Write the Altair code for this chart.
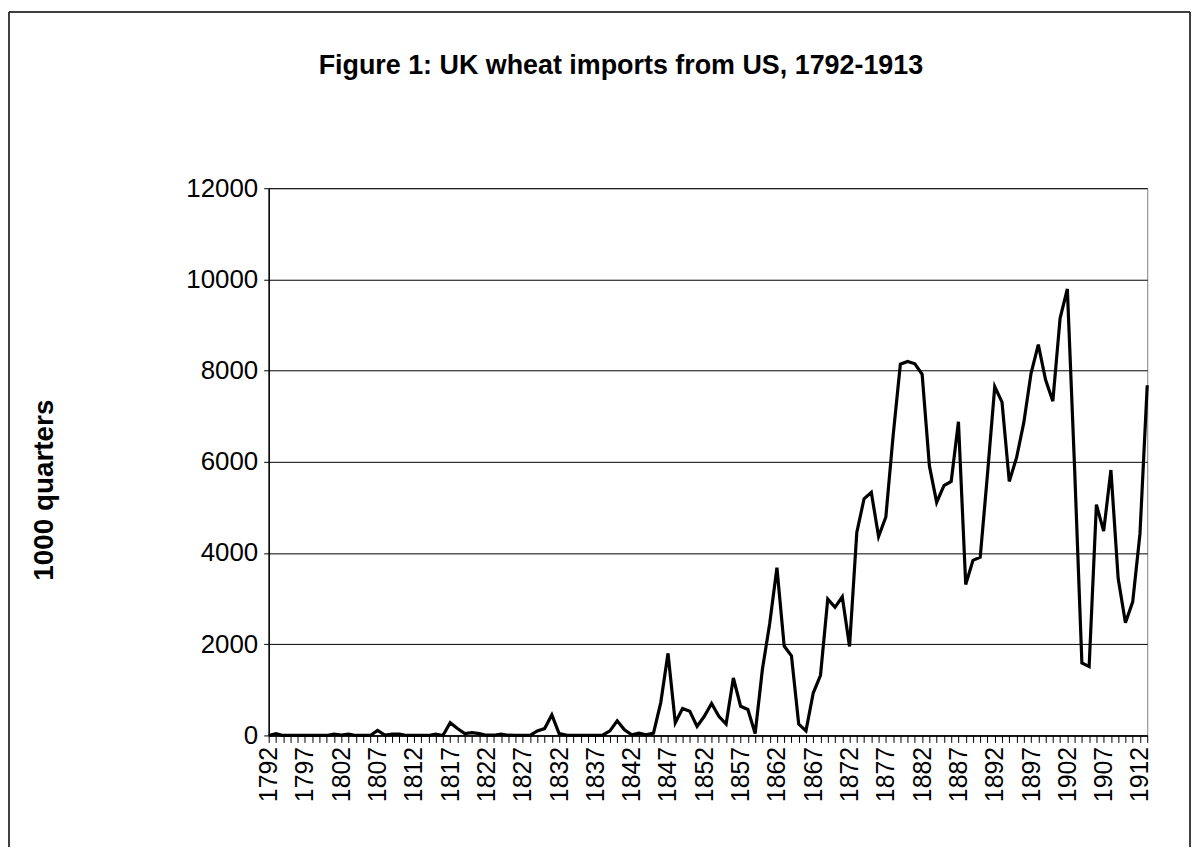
import altair as alt
import pandas as pd

# Years (categories) and UK wheat imports from the US, 1000 quarters
years = list(range(1792, 1914))
imports = [
    0, 40, 0, 0, 0, 0, 0, 0, 0, 30,          # 1792-1801
    10, 30, 0, 0, 0, 110, 10, 30, 30, 0,     # 1802-1811
    0, 0, 0, 30, 0, 280, 150, 40, 60, 40,    # 1812-1821
    5, 5, 30, 5, 0, 0, 0, 100, 150, 450,     # 1822-1831
    40, 10, 0, 0, 0, 0, 5, 100, 320, 125,    # 1832-1841
    15, 50, 15, 50, 720, 1800, 280, 590, 530, 200,   # 1842-1851
    420, 700, 420, 250, 1260, 640, 570, 40, 1450, 2450,  # 1852-1861
    3680, 1960, 1745, 250, 100, 930, 1320, 2990, 2810, 3040,  # 1862-1871
    1950, 4450, 5190, 5330, 4360, 4790, 6570, 8140, 8200, 8150,  # 1872-1881
    7920, 5910, 5110, 5480, 5570, 6880, 3310, 3840, 3910, 5730,  # 1882-1891
    7650, 7310, 5570, 6090, 6860, 7940, 8570, 7800, 7330, 9150,  # 1892-1901
    9790, 5850, 1590, 1510, 5060, 4480, 5820, 3440, 2470, 2930,  # 1902-1911
    4420, 7680,                                                   # 1912-1913
]
assert len(years) == len(imports)

y_ticks = [0, 2000, 4000, 6000, 8000, 10000, 12000]
title_text = "Figure 1: UK wheat imports from US, 1792-1913"
y_title = "1000 quarters"

df = pd.DataFrame({"year": years, "imports": imports})

FONT = "Liberation Sans"

line = alt.Chart(df).mark_line(color="black", strokeWidth=3.2).encode(
    x=alt.X(
        "year:Q",
        scale=alt.Scale(domain=[years[0], years[-1]], nice=False, zero=False),
        axis=alt.Axis(
            values=years,
            labelExpr="(datum.value - 1792) % 5 == 0 ? toString(datum.value) : ''",
            labelAngle=270,
            labelOverlap=False,
            labelFlush=False,
            labelFont=FONT,
            labelFontSize=25,
            labelColor="black",
            labelPadding=4,
            tickSize=7,
            tickColor="black",
            domainColor="black",
            domainWidth=1.5,
            grid=False,
            title=None,
        ),
    ),
    y=alt.Y(
        "imports:Q",
        scale=alt.Scale(domain=[0, 12000], nice=False),
        axis=alt.Axis(
            values=y_ticks,
            format="d",
            labelFont=FONT,
            labelFontSize=26,
            labelColor="black",
            labelPadding=6,
            tickSize=5,
            tickColor="black",
            domainColor="black",
            domainWidth=1.5,
            grid=True,
            gridColor="black",
            gridWidth=1,
            title=y_title,
            titleFont=FONT,
            titleFontSize=28,
            titleFontWeight="bold",
            titleColor="black",
            titleAngle=270,
            titleAlign="center",
            titleBaseline="middle",
            titleX=-225,
            titleY=303,
        ),
    ),
)

# chart title as a text layer (kept out of the bounds computation)
title_df = pd.DataFrame({"t": [title_text]})
title = alt.Chart(title_df).mark_text(
    font=FONT, fontSize=27, fontWeight="bold", color="black",
    align="center", baseline="middle",
).encode(text="t:N", x=alt.value(354), y=alt.value(-123))

# decorative outer frame of the chart object
frame_df = pd.DataFrame({"k": [0]})
frame_left = alt.Chart(frame_df).mark_rule(color="black", strokeWidth=1.5).encode(
    x=alt.value(-261), y=alt.value(-177), y2=alt.value(700)
)
frame_top = alt.Chart(frame_df).mark_rule(color="black", strokeWidth=1.5).encode(
    x=alt.value(-261), x2=alt.value(926), y=alt.value(-177)
)
frame_right = alt.Chart(frame_df).mark_rule(color="black", strokeWidth=1.5).encode(
    x=alt.value(926), y=alt.value(-177), y2=alt.value(700)
)

chart = (
    alt.layer(line, title, frame_left, frame_top, frame_right)
    .properties(
        width=883,
        height=550,
        autosize=alt.AutoSizeParams(type="none"),
        padding={"left": 262, "top": 179, "right": 45, "bottom": 110},
        background="white",
    )
    .configure_view(stroke="#808080", strokeWidth=1)
)

chart.save("out.html", embed_options={"renderer": "svg", "actions": False})
